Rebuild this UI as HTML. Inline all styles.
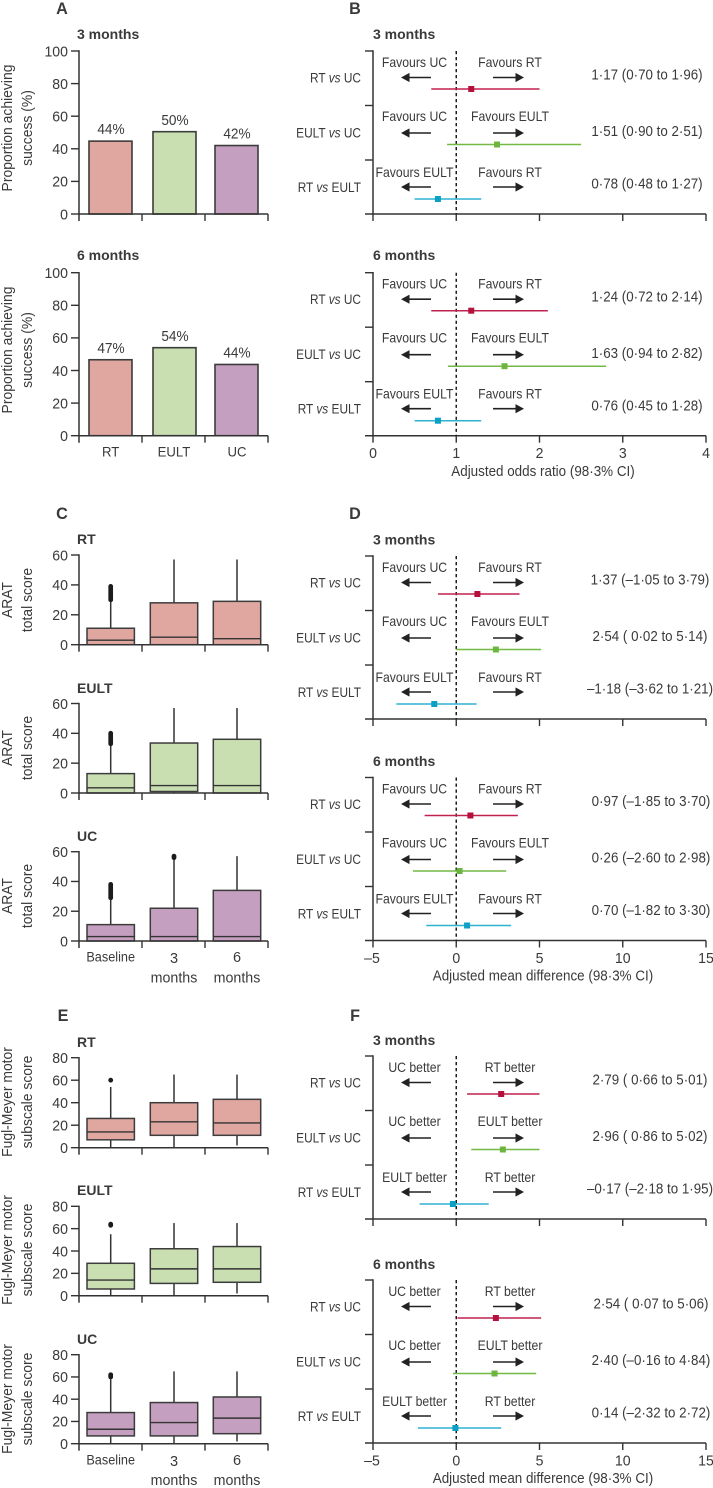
<!DOCTYPE html>
<html lang="en">
<head>
<meta charset="utf-8">
<title>Outcomes by treatment group</title>
<style>
html,body{margin:0;padding:0;background:#fff;}
body{width:713px;height:1488px;overflow:hidden;}
svg{display:block;}
text{font-family:"Liberation Sans",sans-serif;fill:#3a3a3a;}
</style>
</head>
<body>
<svg id="figure" xmlns="http://www.w3.org/2000/svg" width="713" height="1488" viewBox="0 0 713 1488"></svg>
<script>
// ---------- Bar chart data (panel A) ----------
const barCategories = ['RT', 'EULT', 'UC'];
const barPct3m = [44.7, 50.5, 42];
const barPct6m = [46.6, 54, 43.7];
const barLabels3m = ['44%', '50%', '42%'];
const barLabels6m = ['47%', '54%', '44%'];
const barTicks = [0, 20, 40, 60, 80, 100];

// ---------- Box plot data ----------
const boxCategories = ['Baseline', '3 months', '6 months'];
const aratTicks = [0, 20, 40, 60];
const fmTicks = [0, 20, 40, 60, 80];

const cRtQ1 = [0, 0, 0];
const cRtMedian = [3, 5, 4];
const cRtQ3 = [11, 28, 29];
const cRtLow = [0, 0, 0];
const cRtHigh = [29, 57, 57];
const cRtOutliers = [[30, 31, 32, 33, 34, 35, 36, 37, 38, 39], [], []];

const cEultQ1 = [0, 1, 0];
const cEultMedian = [3.5, 5, 5];
const cEultQ3 = [13, 33.5, 36];
const cEultLow = [0, 0, 0];
const cEultHigh = [32, 57, 57];
const cEultOutliers = [[33, 34, 35, 36, 37, 38, 39, 40], [], []];

const cUcQ1 = [0, 0, 0];
const cUcMedian = [3, 3, 3];
const cUcQ3 = [11, 22, 34];
const cUcLow = [0, 0, 0];
const cUcHigh = [28, 55, 57];
const cUcOutliers = [[29, 30, 31, 32, 33, 34, 35, 36, 37, 38], [56, 57], []];

const eRtQ1 = [7, 11, 11];
const eRtMedian = [14, 23, 22];
const eRtQ3 = [26, 40, 43];
const eRtLow = [0, 0, 2];
const eRtHigh = [54, 65, 65];
const eRtOutliers = [[60], [], []];

const eEultQ1 = [6, 11, 12];
const eEultMedian = [14, 24, 24];
const eEultQ3 = [29, 42, 44];
const eEultLow = [0, 0, 2];
const eEultHigh = [55, 65, 65];
const eEultOutliers = [[63, 64], [], []];

const eUcQ1 = [7, 7, 9];
const eUcMedian = [13, 19, 23];
const eUcQ3 = [28, 37, 42];
const eUcLow = [0, 0, 2];
const eUcHigh = [58, 65, 65];
const eUcOutliers = [[60, 61, 62], [], []];

// ---------- Forest plot data ----------
const comparisons = ['RT', 'EULT', 'RT'];
const comparators = ['UC', 'UC', 'EULT'];
const favourLeft = ['Favours UC', 'Favours UC', 'Favours EULT'];
const favourRight = ['Favours RT', 'Favours EULT', 'Favours RT'];
const betterLeft = ['UC better', 'UC better', 'EULT better'];
const betterRight = ['RT better', 'EULT better', 'RT better'];
const oddsTicks = ['0', '1', '2', '3', '4'];
const oddsTickValues = [0, 1, 2, 3, 4];
const diffTicks = ['–5', '0', '5', '10', '15'];
const diffTickValues = [-5, 0, 5, 10, 15];

const b3Est = [1.18, 1.49, 0.78];
const b3Low = [0.70, 0.89, 0.50];
const b3High = [2.00, 2.50, 1.30];
const b3Text = ['1·17 (0·70 to 1·96)', '1·51 (0·90 to 2·51)', '0·78 (0·48 to 1·27)'];

const b6Est = [1.18, 1.58, 0.78];
const b6Low = [0.70, 0.90, 0.50];
const b6High = [2.10, 2.80, 1.30];
const b6Text = ['1·24 (0·72 to 2·14)', '1·63 (0·94 to 2·82)', '0·76 (0·45 to 1·28)'];

const d3Est = [1.27, 2.38, -1.32];
const d3Low = [-1.10, 0.00, -3.60];
const d3High = [3.80, 5.10, 1.22];
const d3Text = ['1·37 (–1·05 to 3·79)', '2·54 ( 0·02 to 5·14)', '–1·18 (–3·62 to 1·21)'];

const d6Est = [0.85, 0.20, 0.65];
const d6Low = [-1.90, -2.60, -1.80];
const d6High = [3.70, 3.00, 3.30];
const d6Text = ['0·97 (–1·85 to 3·70)', '0·26 (–2·60 to 2·98)', '0·70 (–1·82 to 3·30)'];

const f3Est = [2.70, 2.80, -0.20];
const f3Low = [0.65, 0.90, -2.20];
const f3High = [5.00, 5.00, 1.95];
const f3Text = ['2·79 ( 0·66 to 5·01)', '2·96 ( 0·86 to 5·02)', '–0·17 (–2·18 to 1·95)'];

const f6Est = [2.38, 2.30, -0.05];
const f6Low = [0.07, -0.20, -2.30];
const f6High = [5.10, 4.80, 2.70];
const f6Text = ['2·54 ( 0·07 to 5·06)', '2·40 (–0·16 to 4·84)', '0·14 (–2·32 to 2·72)'];

// ---------- Drawing ----------
const NS = 'http://www.w3.org/2000/svg';
const root = document.getElementById('figure');
const INK = '#333333';
const fills = { RT: '#e0a6a0', EULT: '#c9dfb2', UC: '#c49fbf' };
const seriesLine = ['#c2204f', '#74b944', '#2fb2d2'];
const seriesMark = ['#b5103c', '#6cb53f', '#0ba0c4'];

function linear(d0, d1, r0, r1) {
  return function (v) { return r0 + (v - d0) * (r1 - r0) / (d1 - d0); };
}
function make(tag, attrs, parent) {
  const node = document.createElementNS(NS, tag);
  for (const k in attrs) node.setAttribute(k, attrs[k]);
  (parent || root).appendChild(node);
  return node;
}
function group(name) {
  const g = make('g', {});
  
  
  return g;
}
function line(parent, name, x1, y1, x2, y2, color, width) {
  const l = make('line', { x1: x1, y1: y1, x2: x2, y2: y2, stroke: color, 'stroke-width': width }, parent);
  
  
  return l;
}
function squeeze(t, factor) {
  const w = t.getComputedTextLength();
  t.setAttribute('textLength', (w * factor).toFixed(2));
  t.setAttribute('lengthAdjust', 'spacingAndGlyphs');
}
function label(parent, name, str, x, y, size, anchor, weight, rotate, factor) {
  const attrs = { x: x, y: y + size * 0.35, 'font-size': size, 'text-anchor': anchor || 'middle' };
  if (weight) attrs['font-weight'] = weight;
  if (rotate) {
    attrs.x = 0; attrs.y = size * 0.35;
    attrs.transform = 'translate(' + x + ',' + y + ') rotate(-90)';
  }
  const t = make('text', attrs, parent);
  t.textContent = str;
  
  
  if (factor) squeeze(t, factor);
  return t;
}

const AX_X = 79;
const AX_R = 268;
const slotCentre = linear(0, 3, AX_X, AX_R);
const boxCentres = [110.7, 174, 237];

function leftFrame(g, y, ticks, maxV, yBottom, yTop) {
  line(g, 'y-axis', AX_X, yTop - 0.7, AX_X, yBottom + 7, INK, 1.5);
  line(g, 'x-axis', AX_X, yBottom, AX_R, yBottom, INK, 1.5);
  ticks.forEach(function (tv) {
    line(g, 'y-tick', 71, y(tv), AX_X, y(tv), INK, 1.4);
    label(g, 'y-tick-label', String(tv), 68, y(tv), 15, 'end', null, false, 0.94);
  });
  [1, 2, 3].forEach(function (i) {
    line(g, 'x-tick', slotCentre(i), yBottom, slotCentre(i), yBottom + 7, INK, 1.4);
  });
}

function drawBars(name, title, titleY, yTop, yBottom, values, labels, showCats) {
  const g = group(name);
  const y = linear(0, 100, yBottom, yTop);
  const barX = [89, 153, 215];
  label(g, 'chart-title', title, 77, titleY, 14, 'start', 'bold');
  values.forEach(function (v, i) {
    const r = make('rect', { x: barX[i], y: y(v), width: 43, height: yBottom - y(v), fill: fills[barCategories[i]], stroke: '#3c3c3c', 'stroke-width': 1.6 }, g);
    
    
    label(g, 'bar-value', labels[i], barX[i] + 22, y(v) - 12, 14.5, 'middle', null, false, 0.94);
    if (showCats) label(g, 'category-label', barCategories[i], boxCentres[i], yBottom + 16, 14, 'middle', null, false, 0.94);
  });
  leftFrame(g, y, barTicks, 100, yBottom, yTop);
}

function drawBoxes(name, title, titleY, yTop, yBottom, maxV, ticks, colour, q1, med, q3, low, high, outliers, showCats) {
  const g = group(name);
  const y = linear(0, maxV, yBottom, yTop);
  label(g, 'chart-title', title, 77, titleY, 14, 'start', 'bold');
  med.forEach(function (m, i) {
    const cx = boxCentres[i];
    const halfW = 23.7;
    line(g, 'whisker-upper', cx, y(q3[i]), cx, y(high[i]), INK, 1.5);
    line(g, 'whisker-lower', cx, y(q1[i]), cx, y(low[i]), INK, 1.5);
    const r = make('rect', { x: cx - halfW, y: y(q3[i]), width: halfW * 2, height: y(q1[i]) - y(q3[i]), fill: colour, stroke: '#3c3c3c', 'stroke-width': 1.5 }, g);
    
    
    line(g, 'median-line', cx - halfW, y(m), cx + halfW, y(m), INK, 1.4);
    outliers[i].forEach(function (o) {
      const c = make('circle', { cx: cx, cy: y(o), r: 2.4, fill: '#1c1c1c' }, g);
      
      
    });
  });
  leftFrame(g, y, ticks, maxV, yBottom, yTop);
  if (showCats) {
    label(g, 'category-label', 'Baseline', boxCentres[0], yBottom + 16, 13.5, 'middle', null, false, 0.94);
    label(g, 'category-label', '3', boxCentres[1], yBottom + 17, 14.5);
    label(g, 'category-label', 'months', boxCentres[1], yBottom + 36, 15, 'middle', null, false, 0.95);
    label(g, 'category-label', '6', boxCentres[2], yBottom + 16, 14.5);
    label(g, 'category-label', 'months', boxCentres[2], yBottom + 36, 15, 'middle', null, false, 0.95);
  }
}

function arrow(g, name, xTail, xHead, y) {
  const dir = xHead > xTail ? 1 : -1;
  line(g, name + '-shaft', xTail, y, xHead - dir * 6, y, '#222222', 1.6);
  const p = make('polygon', { points: xHead + ',' + y + ' ' + (xHead - dir * 8.5) + ',' + (y - 4.6) + ' ' + (xHead - dir * 8.5) + ',' + (y + 4.6), fill: '#222222' }, g);
  
  
}

function drawForest(name, title, titleY, top, dMin, dMax, tickVals, tickText, nullVal, est, low, high, text, leftText, rightText, valueX, axisTitle) {
  const g = group(name);
  const x = linear(dMin, dMax, 373, 706);
  const bottom = top + 163;
  label(g, 'chart-title', title, 373, titleY, 14, 'start', 'bold');
  line(g, 'y-axis', 373, top - 0.7, 373, bottom, INK, 1.5);
  line(g, 'x-axis', 365, bottom, 706, bottom, INK, 1.5);
  [0, 54.5, 109].forEach(function (off) {
    line(g, 'row-tick', 365, top + off, 373, top + off, INK, 1.4);
  });
  tickVals.forEach(function (tv, i) {
    line(g, 'x-tick', x(tv), bottom, x(tv), bottom + 7, INK, 1.4);
    if (axisTitle) label(g, 'x-tick-label', tickText[i], i === 0 && nullVal === 0 ? x(tv) - 1 : x(tv), bottom + 17, 15, 'middle', null, false, 0.94);
  });
  const dash = make('line', { x1: x(nullVal), y1: top, x2: x(nullVal), y2: bottom, stroke: '#1c1c1c', 'stroke-width': 1.5, 'stroke-dasharray': '3.2 2.8' }, g);
  
  
  const labelOff = [11, 65, 121];
  const arrowOff = [26.5, 82, 136];
  const ciOff = [38, 93.5, 148];
  const valOff = [23.5, 80, 132.5];
  const nameOff = [26.5, 81.5, 136];
  est.forEach(function (e, i) {
    const rowName = make('text', { x: 361, y: top + nameOff[i] + 4.8, 'font-size': 13.8, 'text-anchor': 'end' }, g);
    
    
    rowName.appendChild(document.createTextNode(comparisons[i] + ' '));
    const vs = make('tspan', { 'font-style': 'italic' }, rowName);
    vs.textContent = 'vs';
    rowName.appendChild(document.createTextNode(' ' + comparators[i]));
    squeeze(rowName, 0.86);
    label(g, 'direction-label-left', leftText[i], 414.5, top + labelOff[i], 13.6, 'middle', null, false, 0.9);
    label(g, 'direction-label-right', rightText[i], 510, top + labelOff[i], 13.6, 'middle', null, false, 0.9);
    arrow(g, 'arrow-left', 431, 401, top + arrowOff[i]);
    arrow(g, 'arrow-right', 493, 524, top + arrowOff[i]);
    line(g, 'confidence-interval', x(low[i]), top + ciOff[i], x(high[i]), top + ciOff[i], seriesLine[i], 1.5);
    const m = make('rect', { x: x(e) - 3, y: top + ciOff[i] - 3, width: 6, height: 6, fill: seriesMark[i] }, g);
    
    
    label(g, 'effect-value', text[i], valueX, top + valOff[i], 14.5, 'middle', null, false, 0.92);
  });
  if (axisTitle) label(g, 'x-axis-title', axisTitle, 543, bottom + 35, 14.5, 'middle', null, false, 0.925);
}

// Panel letters
[['A', 62, 8], ['B', 355, 8], ['C', 62, 513], ['D', 355, 513], ['E', 63, 1015], ['F', 355, 1015]].forEach(function (p) {
  label(root, 'panel-letter-' + p[0].toLowerCase(), p[0], p[1], p[2], 17, 'middle', 'bold', false, 0.95);
});

// Y axis titles
function yTitle(first, second, cy) {
  label(root, 'y-axis-title', first, 7, cy, 14.5, 'middle', null, true, 0.96);
  label(root, 'y-axis-title', second, 27, cy, 14.5, 'middle', null, true, 0.96);
}
yTitle('Proportion achieving', 'success (%)', 128);
yTitle('Proportion achieving', 'success (%)', 350);
yTitle('ARAT', 'total score', 600);
yTitle('ARAT', 'total score', 748);
yTitle('ARAT', 'total score', 896);
yTitle('Fugl-Meyer motor', 'subscale score', 1102);
yTitle('Fugl-Meyer motor', 'subscale score', 1250);
yTitle('Fugl-Meyer motor', 'subscale score', 1399);

// Panel A
drawBars('panel-a-3-months', '3 months', 34, 51, 214, barPct3m, barLabels3m, false);
drawBars('panel-a-6-months', '6 months', 255, 272.7, 435.7, barPct6m, barLabels6m, true);

// Panel C
drawBoxes('panel-c-rt', 'RT', 539, 555, 644.7, 60, aratTicks, fills.RT, cRtQ1, cRtMedian, cRtQ3, cRtLow, cRtHigh, cRtOutliers, false);
drawBoxes('panel-c-eult', 'EULT', 688, 703.5, 793, 60, aratTicks, fills.EULT, cEultQ1, cEultMedian, cEultQ3, cEultLow, cEultHigh, cEultOutliers, false);
drawBoxes('panel-c-uc', 'UC', 836, 851.7, 941, 60, aratTicks, fills.UC, cUcQ1, cUcMedian, cUcQ3, cUcLow, cUcHigh, cUcOutliers, true);

// Panel E
drawBoxes('panel-e-rt', 'RT', 1042, 1057.7, 1147.7, 80, fmTicks, fills.RT, eRtQ1, eRtMedian, eRtQ3, eRtLow, eRtHigh, eRtOutliers, false);
drawBoxes('panel-e-eult', 'EULT', 1190, 1206.3, 1295.7, 80, fmTicks, fills.EULT, eEultQ1, eEultMedian, eEultQ3, eEultLow, eEultHigh, eEultOutliers, false);
drawBoxes('panel-e-uc', 'UC', 1339, 1354.7, 1443.7, 80, fmTicks, fills.UC, eUcQ1, eUcMedian, eUcQ3, eUcLow, eUcHigh, eUcOutliers, true);

// Forest panels
drawForest('panel-b-3-months', '3 months', 34, 51, 0, 4, oddsTickValues, oddsTicks, 1, b3Est, b3Low, b3High, b3Text, favourLeft, favourRight, 647, null);
drawForest('panel-b-6-months', '6 months', 255, 272.7, 0, 4, oddsTickValues, oddsTicks, 1, b6Est, b6Low, b6High, b6Text, favourLeft, favourRight, 647, 'Adjusted odds ratio (98·3% CI)');
drawForest('panel-d-3-months', '3 months', 539.5, 556, -5, 15, diffTickValues, diffTicks, 0, d3Est, d3Low, d3High, d3Text, favourLeft, favourRight, 650, null);
drawForest('panel-d-6-months', '6 months', 761, 777.5, -5, 15, diffTickValues, diffTicks, 0, d6Est, d6Low, d6High, d6Text, favourLeft, favourRight, 651, 'Adjusted mean difference (98·3% CI)');
drawForest('panel-f-3-months', '3 months', 1040, 1056, -5, 15, diffTickValues, diffTicks, 0, f3Est, f3Low, f3High, f3Text, betterLeft, betterRight, 650, null);
drawForest('panel-f-6-months', '6 months', 1264, 1280, -5, 15, diffTickValues, diffTicks, 0, f6Est, f6Low, f6High, f6Text, betterLeft, betterRight, 651, 'Adjusted mean difference (98·3% CI)');
</script>
</body>
</html>
